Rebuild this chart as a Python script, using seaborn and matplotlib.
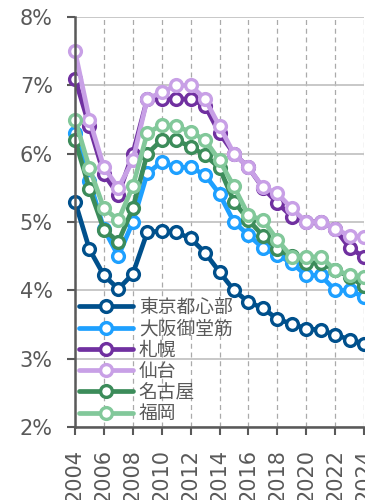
import matplotlib
matplotlib.use("Agg")
import matplotlib.pyplot as plt
import seaborn as sns
import pandas as pd
from matplotlib.ticker import FuncFormatter, MultipleLocator

years = list(range(2004, 2025))
tokyo   = [5.30, 4.60, 4.22, 4.02, 4.24, 4.85, 4.87, 4.85, 4.76, 4.55, 4.27, 4.00, 3.83, 3.74, 3.58, 3.51, 3.44, 3.42, 3.35, 3.28, 3.22]
osaka   = [6.30, 5.60, 4.90, 4.50, 5.00, 5.71, 5.88, 5.80, 5.80, 5.69, 5.41, 5.00, 4.81, 4.62, 4.52, 4.40, 4.22, 4.22, 4.00, 4.00, 3.90]
sapporo = [7.10, 6.40, 5.70, 5.40, 6.00, 6.80, 6.80, 6.80, 6.80, 6.70, 6.30, 6.00, 5.80, 5.50, 5.28, 5.08, 5.00, 5.00, 4.90, 4.62, 4.49]
sendai  = [7.50, 6.50, 5.80, 5.50, 5.90, 6.80, 6.90, 7.00, 7.00, 6.80, 6.40, 6.00, 5.80, 5.51, 5.42, 5.20, 5.00, 5.00, 4.90, 4.80, 4.78]
nagoya  = [6.20, 5.49, 4.89, 4.71, 5.20, 6.00, 6.20, 6.20, 6.10, 5.98, 5.79, 5.30, 5.03, 4.80, 4.60, 4.50, 4.40, 4.40, 4.30, 4.20, 4.06]
fukuoka = [6.50, 5.79, 5.20, 5.03, 5.52, 6.30, 6.42, 6.40, 6.32, 6.20, 5.90, 5.52, 5.10, 5.03, 4.74, 4.49, 4.49, 4.49, 4.30, 4.22, 4.20]

names = ["東京都心部", "大阪御堂筋", "札幌", "仙台", "名古屋", "福岡"]
series = [tokyo, osaka, sapporo, sendai, nagoya, fukuoka]
colors = ["#00508C", "#1EA0FF", "#7030A0", "#C8A0E6", "#3C8C5A", "#82C89A"]

sns.set_theme(style="white")
plt.rcParams["font.family"] = ["DejaVu Sans", "Noto Sans CJK JP"]

fig = plt.figure(figsize=(3.65, 5.0), dpi=100)
ax = fig.add_axes([75/365, 1-427/500, (364-75)/365, (427-17)/500])

for name, vals, col in zip(names, series, colors):
    df = pd.DataFrame({"year": years, "rate": vals})
    sns.lineplot(data=df, x="year", y="rate", ax=ax, color=col, label=name,
                 linewidth=3.4, marker="o", markersize=8.5,
                 markerfacecolor="white", markeredgecolor=col,
                 markeredgewidth=2.4, clip_on=False)

ax.set_xlim(2004, 2024)
ax.set_ylim(2, 8)
ax.xaxis.set_major_locator(MultipleLocator(2))
ax.yaxis.set_major_locator(MultipleLocator(1))
ax.yaxis.set_major_formatter(FuncFormatter(lambda v, p: f"{int(round(v))}%"))
ax.set_xlabel("")
ax.set_ylabel("")

ax.grid(axis="y", color="#BFBFBF", linewidth=1.2, linestyle="-")
ax.grid(axis="x", color="#AAAAAA", linewidth=0.9, linestyle=(0, (4, 3)))
ax.set_axisbelow(True)

for s in ["top", "right"]:
    ax.spines[s].set_visible(False)
for s in ["left", "bottom"]:
    ax.spines[s].set_color("#595959")
    ax.spines[s].set_linewidth(1.8)

ax.tick_params(axis="both", colors="#595959", labelcolor="#595959", labelsize=15,
               length=6, width=1.5, direction="out", left=True, bottom=True)
ax.tick_params(axis="y", pad=10)
ax.tick_params(axis="x", labelrotation=90, pad=10)

leg = ax.legend(loc="lower left", bbox_to_anchor=(0.0, 0.0), frameon=False,
                fontsize=13.5, handlelength=2.9, handletextpad=0.3,
                labelspacing=0.12, borderaxespad=0.1, borderpad=0.1)
for t in leg.get_texts():
    t.set_color("#595959")

fig.savefig("out.png", dpi=100)
